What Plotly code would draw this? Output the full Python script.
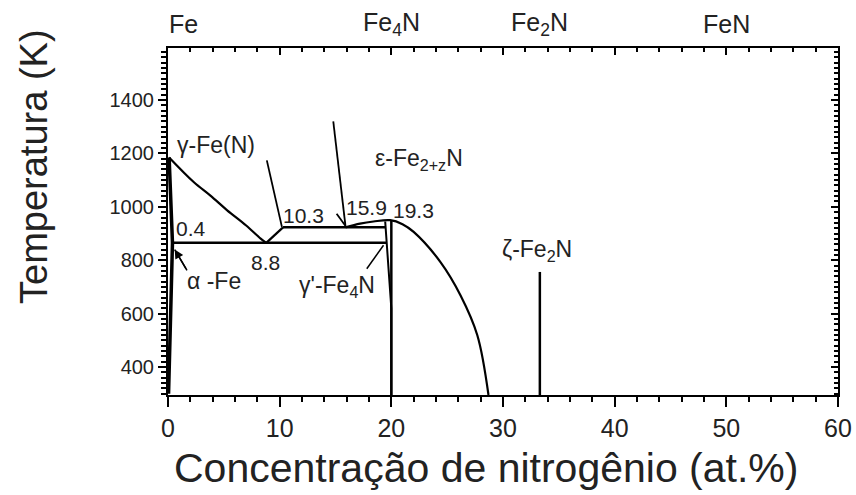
import plotly.graph_objects as go

FONT = "Liberation Sans, Arial, sans-serif"

# ---- data (x in at.% N, T in K) ----
gamma_x = [0.1, 2.3, 3.8, 5.3, 7.0, 8.3, 8.8]
gamma_T = [1185, 1093, 1042, 987, 930, 881, 865]

gamma_right_x = [8.8, 10.3]
gamma_right_T = [865, 923]

alpha_x = [0.1, 0.3, 0.4, 0.3, 0.15, 0.05]
alpha_T = [1185, 1000, 865, 700, 500, 300]

eutectoid_x = [0.4, 19.6]
eutectoid_T = [865, 865]

upper_x = [10.3, 19.5]
upper_T = [923, 923]

eps_x = [15.9, 17.2, 18.4, 19.9, 21.0, 22.0, 24.4, 26.2, 27.7, 28.7]
eps_T = [923, 937, 945, 950, 935, 906, 793, 668, 519, 295]

gp_left_x = [19.45, 19.6, 19.8, 20.0, 20.0]
gp_left_T = [945, 865, 740, 620, 295]

gp_right_x = [20.0, 20.0]
gp_right_T = [295, 950]

zeta_x = [33.3, 33.3]
zeta_T = [295, 756]

# leader lines
lead_gamma_x = [8.85, 10.2]
lead_gamma_T = [1174, 925]
lead_eps_x = [14.8, 15.9]
lead_eps_T = [1320, 926]
lead_eps_wing_x = [15.1, 15.87]
lead_eps_wing_T = [974, 930]
lead_gp_x = [17.8, 19.3]
lead_gp_T = [768, 856]
lead_alpha_x = [1.7, 0.6]
lead_alpha_T = [762, 840]

# labels
lab_text = ["γ-Fe(N)", "α -Fe", "ε-Fe<sub>2+z</sub>N", "γ'-Fe<sub>4</sub>N", "ζ-Fe<sub>2</sub>N"]
lab_x = [4.3, 4.1, 22.5, 15.1, 33.0]
lab_T = [1233, 723, 1178, 700, 837]

num_text = ["0.4", "8.8", "10.3", "15.9", "19.3"]
num_x = [2.1, 8.7, 12.1, 17.75, 22.0]
num_T = [918, 793, 968, 996, 987]

top_text = ["Fe", "Fe<sub>4</sub>N", "Fe<sub>2</sub>N", "FeN"]
top_x = [1.4, 20.0, 33.3, 50.0]

x_range = [0, 60]
T_range = [295, 1595]

# plot area in window pixels
PL, PR, PT, PB = 168, 838, 48, 395


def px_x(p):
    return (p - PL) / (PR - PL)


def px_y(p):
    return (PB - p) / (PB - PT)


fig = go.Figure()


def add_line(x, y, width=2.2, shape="linear"):
    fig.add_trace(go.Scatter(x=x, y=y, mode="lines",
                             line=dict(color="black", width=width, shape=shape),
                             showlegend=False, hoverinfo="skip"))


add_line(gamma_x, gamma_T, shape="spline")
add_line(gamma_right_x, gamma_right_T)
add_line(alpha_x, alpha_T, width=3.5)
add_line(eutectoid_x, eutectoid_T, width=2.5)
add_line(upper_x, upper_T, width=2.5)
add_line(eps_x, eps_T, shape="spline")
add_line(gp_left_x, gp_left_T, width=2)
add_line(gp_right_x, gp_right_T, width=2.5)
add_line(zeta_x, zeta_T, width=2.5)
add_line(lead_gamma_x, lead_gamma_T, width=1.8)
add_line(lead_eps_x, lead_eps_T, width=1.8)
add_line(lead_eps_wing_x, lead_eps_wing_T, width=1.8)
add_line(lead_gp_x, lead_gp_T, width=1.5)
add_line(lead_alpha_x, lead_alpha_T, width=1.5)

# invisible trace so the mirrored top/right axes have data
fig.add_trace(go.Scatter(x=x_range, y=T_range, xaxis="x2", yaxis="y2", mode="markers",
                         marker=dict(opacity=0, size=1),
                         showlegend=False, hoverinfo="skip"))

annotations = []
for t, x, y in zip(lab_text, lab_x, lab_T):
    annotations.append(dict(x=x, y=y, xref="x", yref="y", text=t, showarrow=False,
                            xanchor="center", yanchor="middle",
                            font=dict(family=FONT, size=23, color="#222")))
for t, x, y in zip(num_text, num_x, num_T):
    annotations.append(dict(x=x, y=y, xref="x", yref="y", text=t, showarrow=False,
                            xanchor="center", yanchor="middle",
                            font=dict(family=FONT, size=21, color="#222")))
for t, x in zip(top_text, top_x):
    annotations.append(dict(x=x, y=px_y(24), xref="x", yref="paper", text=t, showarrow=False,
                            xanchor="center", yanchor="middle",
                            font=dict(family=FONT, size=25, color="#222")))
# arrow head for alpha-Fe
annotations.append(dict(x=lead_alpha_x[1], y=lead_alpha_T[1], ax=lead_alpha_x[0], ay=lead_alpha_T[0],
                        xref="x", yref="y", axref="x", ayref="y", text="", showarrow=True,
                        arrowhead=2, arrowsize=1.2, arrowwidth=1.5, arrowcolor="black"))
# axis titles
annotations.append(dict(x=px_x(486), y=px_y(468), xref="paper", yref="paper",
                        xanchor="center", yanchor="middle",
                        text="Concentração de nitrogênio (at.%)", showarrow=False,
                        font=dict(family=FONT, size=41, color="#222")))
annotations.append(dict(x=px_x(34), y=px_y(167), xref="paper", yref="paper",
                        xanchor="center", yanchor="middle",
                        text="Temperatura (K)", showarrow=False, textangle=-90,
                        font=dict(family=FONT, size=38, color="#222")))

axis_common = dict(showgrid=False, zeroline=False, showline=True, linecolor="black",
                   linewidth=2, tickcolor="black", tickwidth=2)

fig.update_layout(
    width=856, height=495,
    margin=dict(l=PL, r=856 - PR, t=PT, b=495 - PB, autoexpand=False),
    paper_bgcolor="white", plot_bgcolor="white",
    showlegend=False,
    annotations=annotations,
    xaxis=dict(range=x_range, dtick=10, tick0=0, ticks="outside", ticklen=10,
               minor=dict(dtick=2, tick0=0, ticks="outside", ticklen=5, tickwidth=1.5,
                          tickcolor="black", showgrid=False),
               tickfont=dict(family=FONT, size=25, color="#222"), **axis_common),
    yaxis=dict(range=T_range, dtick=200, tick0=0, ticks="outside", ticklen=8,
               minor=dict(dtick=20, tick0=0, ticks="outside", ticklen=5, tickwidth=1.5,
                          tickcolor="black", showgrid=False),
               tickfont=dict(family=FONT, size=20, color="#222"), **axis_common),
    xaxis2=dict(range=x_range, dtick=10, tick0=0, overlaying="x", side="top", anchor="y",
                ticks="inside", ticklen=7, showticklabels=False,
                minor=dict(dtick=2, tick0=0, ticks="inside", ticklen=4, tickwidth=1.5,
                           tickcolor="black", showgrid=False),
                **axis_common),
    yaxis2=dict(range=T_range, dtick=200, tick0=0, overlaying="y", side="right", anchor="x",
                ticks="inside", ticklen=7, showticklabels=False,
                minor=dict(dtick=20, tick0=0, ticks="inside", ticklen=4, tickwidth=1.5,
                           tickcolor="black", showgrid=False),
                **axis_common),
)

fig.write_html("out.html", post_script="document.body.style.margin='0';",
               config={"displayModeBar": False})
